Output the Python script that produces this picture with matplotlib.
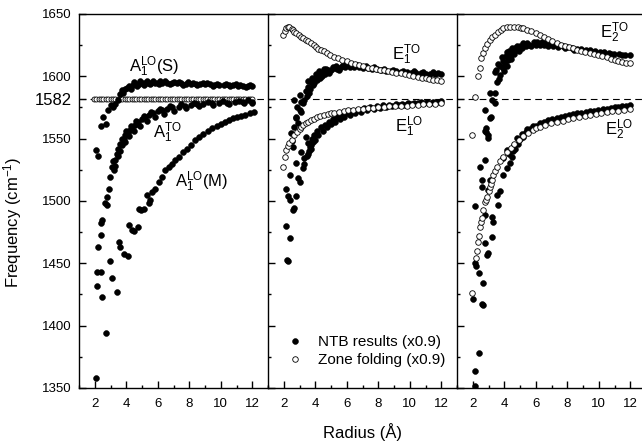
import matplotlib
matplotlib.use("Agg")
import matplotlib.pyplot as plt
from matplotlib.ticker import MultipleLocator

plt.rcParams['font.family'] = ['Liberation Sans', 'DejaVu Sans']
plt.rcParams['mathtext.fontset'] = 'custom'
plt.rcParams['mathtext.rm'] = 'Liberation Sans'
plt.rcParams['mathtext.it'] = 'Liberation Sans:italic'
plt.rcParams['mathtext.bf'] = 'Liberation Sans:bold'

# ---- panel 1 (A1 modes) ----
a1s_x = [2.05, 2.2, 2.4, 2.55, 2.7, 2.85, 3.0, 3.15, 3.3, 3.45, 3.6, 3.75, 3.9, 4.05, 4.2,
         4.4, 4.6, 4.8, 5.0, 5.2, 5.4, 5.6, 5.8, 6.0, 6.3, 6.6, 6.9, 7.2, 7.5, 7.8, 8.1, 8.4,
         8.7, 9.0, 9.3, 9.6, 9.9, 10.2, 10.5, 10.8, 11.1, 11.4, 11.7, 12.0,
         3.8, 4.3, 4.7, 5.1, 5.5, 6.1, 6.8, 7.6, 8.5, 9.5, 10.6, 11.6,
         4.5, 4.9, 5.3, 5.7, 6.15, 6.45, 7.05, 7.35, 7.95, 8.25, 8.85, 9.15, 9.75, 10.35, 10.95,
         11.25, 11.85]
a1s_y = [1541, 1536, 1560, 1567, 1562, 1573, 1577, 1575, 1578, 1581, 1586, 1589, 1590, 1591, 1592,
         1593, 1594, 1594, 1594.5, 1595, 1595, 1595, 1595, 1595, 1595, 1594.8, 1594.7, 1594.5,
         1594.4, 1594.2, 1594, 1594, 1593.8, 1593.6, 1593.5, 1593.3, 1593.2, 1593, 1593, 1592.8,
         1592.6, 1592.5, 1592.4, 1592.2,
         1587, 1590, 1592, 1593, 1593.5, 1593.8, 1593.6, 1593.2, 1592.8, 1592.4, 1592, 1591.6,
         1595.5, 1596, 1596, 1596.2, 1596, 1596, 1595.6, 1595.5, 1595.2, 1595, 1594.7, 1594.5,
         1594.2, 1593.9, 1593.6, 1593.4, 1593.2]

a1to_x = [2.21, 2.42, 2.42, 2.46, 2.68, 2.78, 2.78, 2.89, 2.99, 3.09, 3.2, 3.31, 3.41, 3.5, 3.63,
          3.75, 3.85, 3.95, 4.1, 4.25, 4.37, 4.55, 4.75, 5.0, 5.22, 5.45, 5.7, 6.0, 6.28, 6.6,
          6.9, 7.33, 7.7, 8.1, 8.5, 8.9, 9.45, 9.9, 10.4, 10.9, 11.4, 12.0,
          3.3, 3.6, 3.9, 4.2, 4.5, 4.9, 5.3, 5.8, 6.4, 7.0, 7.8, 8.6, 9.5, 10.5, 11.5, 12.0,
          3.15, 3.45, 3.7, 4.0, 4.3, 4.65, 5.1, 5.55, 6.15, 6.75, 7.5, 8.3, 9.2, 10.15, 11.15, 11.7]
a1to_y = [1463, 1473, 1482, 1485, 1498, 1497, 1503.5, 1510, 1519.5, 1527.6, 1525, 1533, 1538, 1536,
          1546, 1545, 1550, 1553, 1555, 1557, 1559.6, 1561, 1563, 1566, 1567.6, 1569, 1570.5, 1572,
          1573, 1574, 1575, 1575.7, 1576.3, 1577, 1577.5, 1578, 1578.4, 1578.8, 1579, 1579.3,
          1579.5, 1579.7,
          1528, 1540, 1547, 1552, 1556, 1560, 1564, 1567, 1570, 1572.5, 1574.5, 1576, 1577, 1578,
          1578.5, 1578.8,
          1532, 1542, 1550, 1556, 1560, 1564, 1568, 1571, 1574, 1576, 1577.8, 1578.8, 1579.6,
          1580.2, 1580.6, 1580.8]

a1m_x = [2.08, 2.15, 2.15, 2.42, 2.46, 2.74, 2.99, 3.09, 3.41, 3.52, 3.63, 3.84, 4.11, 4.16, 4.37,
         4.5, 4.75, 4.79, 4.95, 5.11, 5.33, 5.43, 5.5, 5.64, 5.85, 6.06, 6.25, 6.49, 6.7, 6.9, 7.1,
         7.33, 7.6, 7.85, 8.1, 8.39, 8.65, 8.9, 9.2, 9.45, 9.75, 10.0, 10.25, 10.51, 10.8, 11.05,
         11.3, 11.57, 11.85, 12.1]
a1m_y = [1358, 1432, 1443, 1443, 1423, 1394, 1452, 1438, 1427, 1467, 1463, 1457.5, 1456, 1481, 1477,
         1476, 1479, 1493.4, 1492.5, 1493.4, 1505, 1498, 1501, 1507.5, 1510, 1515.6, 1519, 1525,
         1527, 1530, 1532.5, 1535.6, 1539, 1542, 1545, 1549, 1551.5, 1553.5, 1556, 1558.4, 1560.5,
         1562, 1563.5, 1565, 1566.3, 1567.3, 1568.3, 1569, 1570.5, 1571.7]

a1zf_x = [1.95, 2.1, 2.25, 2.4, 2.55, 2.7, 2.85, 3.0, 3.15, 3.3, 3.45, 3.6, 3.75, 3.9, 4.05, 4.2,
          4.35, 4.5, 4.65, 4.8, 4.95, 5.1, 5.25, 5.4, 5.55, 5.7, 5.85, 6.0, 6.15, 6.3, 6.45, 6.6,
          6.75, 6.9, 7.05, 7.2, 7.35, 7.5, 7.65, 7.8, 7.95, 8.1, 8.25, 8.4, 8.55, 8.7, 8.85, 9.0,
          9.15, 9.3, 9.45, 9.6, 9.75, 9.9, 10.05, 10.2, 10.35, 10.5, 10.65, 10.8, 10.95, 11.1,
          11.25, 11.4, 11.55, 11.7, 11.85, 12.0]
a1zf_y = [1582] * len(a1zf_x)

# ---- panel 2 (E1 modes) ----
e1to_zf_x = [1.94, 2.05, 2.15, 2.26, 2.36, 2.5, 2.6, 2.68, 2.8, 2.95, 3.1, 3.25, 3.4, 3.55, 3.73,
             3.9, 4.05, 4.2, 4.37, 4.55, 4.75, 4.95, 5.22, 5.45, 5.7, 6.0, 6.27, 6.55, 6.8, 7.05,
             7.33, 7.6, 7.85, 8.1, 8.39, 8.65, 8.9, 9.15, 9.45, 9.7, 9.95, 10.2, 10.5, 10.75, 11.0,
             11.25, 11.5, 11.75, 12.0]
e1to_zf_y = [1633, 1636.5, 1638.5, 1639.5, 1639.8, 1638, 1637, 1635.8, 1634.5, 1633, 1631.8, 1630.5,
             1629.2, 1628, 1626.5, 1625, 1623.5, 1622.3, 1621.1, 1620, 1618.7, 1617.5, 1615.8,
             1614.5, 1613.2, 1612, 1611, 1610, 1609, 1608, 1607, 1606.3, 1605.8, 1605.4, 1605,
             1604.3, 1603.6, 1603, 1602.4, 1601.8, 1601.2, 1600.4, 1599.7, 1599, 1598.3, 1597.7,
             1597.2, 1596.7, 1596.3]

e1to_x = [2.55, 2.68, 2.68, 2.78, 2.85, 3.0, 3.0, 3.1, 3.23, 3.31, 3.4, 3.52, 3.6, 3.73, 3.85, 3.95,
          4.16, 4.3, 4.45, 4.6, 4.79, 5.0, 5.2, 5.4, 5.64, 5.9, 6.2, 6.49, 6.8, 7.05, 7.33, 7.6,
          7.9, 8.2, 8.5, 8.8, 9.1, 9.45, 9.8, 10.1, 10.4, 10.7, 11.0, 11.3, 11.6, 12.0,
          3.45, 3.65, 3.9, 4.1, 4.4, 4.9, 5.5,
          3.55, 3.8, 4.05, 4.25, 4.55, 4.7, 5.1, 5.3, 5.75, 6.05, 6.35, 6.65, 7.2, 7.75, 8.35,
          8.95, 9.6, 10.25, 10.85, 11.45, 11.8]
e1to_y = [1548, 1559.6, 1581, 1567.6, 1575, 1573, 1585, 1579.7, 1578.4, 1581, 1588, 1591.7, 1587,
          1595.5, 1593, 1598, 1601, 1599, 1603, 1602, 1605, 1605, 1606.5, 1606, 1607.5, 1607.5,
          1607.7, 1607.5, 1607.2, 1607, 1606.7, 1606.2, 1605.6, 1605, 1604.5, 1604.2, 1604,
          1603.7, 1603.3, 1603, 1602.7, 1602.4, 1602.2, 1602, 1601.9, 1601.8,
          1584, 1590, 1595, 1597, 1600, 1603, 1605,
          1596, 1599, 1602, 1604, 1605.5, 1606, 1607.5, 1608, 1608.8, 1609, 1609, 1608.8, 1608.3,
          1607.3, 1606.2, 1605.3, 1604.6, 1604, 1603.5, 1603.2, 1603]

e1lo_zf_x = [1.94, 2.05, 2.15, 2.26, 2.36, 2.5, 2.68, 2.85, 3.0, 3.1, 3.25, 3.4, 3.55, 3.73, 3.9,
             4.1, 4.3, 4.58, 4.8, 5.0, 5.22, 5.5, 5.8, 6.1, 6.4, 6.7, 7.0, 7.33, 7.65, 8.0, 8.35,
             8.7, 9.05, 9.45, 9.8, 10.15, 10.5, 10.85, 11.2, 11.6, 12.0]
e1lo_zf_y = [1527.6, 1535, 1541, 1544, 1546.3, 1549, 1553, 1555.5, 1557.5, 1559.6, 1561, 1562.3,
             1563.5, 1565, 1566, 1567, 1568, 1569, 1569.8, 1570.3, 1570.8, 1571.5, 1572.2, 1572.8,
             1573.3, 1573.8, 1574.1, 1574.4, 1574.8, 1575.2, 1575.6, 1575.9, 1576.1, 1576.2,
             1576.6, 1577, 1577.3, 1577.6, 1577.9, 1578.2, 1578.4]

e1lo_x = [2.15, 2.15, 2.21, 2.26, 2.25, 2.42, 2.42, 2.42, 2.46, 2.57, 2.57, 2.62, 2.78, 2.78, 2.78,
          2.89, 2.89, 3.0, 3.1, 3.1, 3.21, 3.31, 3.42, 3.52, 3.65, 3.8, 3.95, 4.1, 4.37, 4.6, 4.85,
          5.1, 5.4, 5.7, 6.0, 6.35, 6.7, 7.1, 7.5, 7.9, 8.3, 8.7, 9.1, 9.5, 9.9, 10.3, 10.7, 11.1,
          11.5, 12.0, 3.3, 3.45, 3.6, 3.75,
          3.55, 3.7, 3.85, 4.0, 4.2, 4.5, 4.75, 5.0, 5.25, 5.55, 5.85, 6.2, 6.55, 6.9, 7.3, 7.7,
          8.1, 8.5, 8.9, 9.3, 9.7, 10.1, 10.5, 10.9, 11.3, 11.75]
e1lo_y = [1480, 1509.5, 1452.7, 1451.5, 1504, 1470.3, 1500.8, 1521, 1554.3, 1543.6, 1492.8, 1494,
          1504, 1530.3, 1566.4, 1518.3, 1562.3, 1515.6, 1539.6, 1571.7, 1526.3, 1534.3, 1551.6,
          1546.3, 1543, 1550, 1553, 1556, 1559.6, 1561, 1563.5, 1565.5, 1567.5, 1569, 1570.5, 1572,
          1573.2, 1574.2, 1575.2, 1576, 1576.7, 1577.3, 1577.8, 1578.2, 1578.6, 1579, 1579.3,
          1579.6, 1579.8, 1580, 1530, 1536, 1540, 1545,
          1538, 1542, 1547, 1549, 1553, 1556.5, 1559, 1561.5, 1563.5, 1565.5, 1567.2, 1569, 1570.3,
          1571.6, 1572.8, 1573.8, 1574.8, 1575.6, 1576.3, 1576.9, 1577.4, 1577.9, 1578.3, 1578.7,
          1579, 1579.4]

# ---- panel 3 (E2 modes) ----
e2to_zf_x = [1.98, 2.15, 2.34, 2.44, 2.55, 2.66, 2.76, 2.9, 3.08, 3.25, 3.4, 3.6, 3.8, 3.95, 4.15,
             4.37, 4.6, 4.85, 5.05, 5.22, 5.45, 5.7, 6.0, 6.27, 6.55, 6.8, 7.05, 7.33, 7.6, 7.85,
             8.1, 8.39, 8.65, 8.9, 9.15, 9.45, 9.7, 9.95, 10.2, 10.5, 10.75, 11.0, 11.25, 11.5,
             11.75, 12.0]
e2to_zf_y = [1553, 1583.7, 1600.3, 1606.4, 1614.5, 1619, 1622.5, 1626, 1629.1, 1631.5, 1633.5,
             1635.8, 1637.5, 1638.5, 1639.3, 1639.8, 1639.8, 1639.5, 1639, 1638.5, 1637.5, 1636.3,
             1634.8, 1633.2, 1631.5, 1629.8, 1628, 1626.5, 1625.3, 1624.2, 1623.3, 1622.5, 1621.5,
             1620.5, 1619.5, 1618.5, 1617.7, 1616.8, 1616, 1615.3, 1614.3, 1613.3, 1612.3, 1611.6,
             1611, 1610.5]

e2to_x = [2.76, 2.87, 2.97, 3.08, 3.1, 3.19, 3.21, 3.4, 3.42, 3.42, 3.46, 3.52, 3.65, 3.75, 3.84,
          3.95, 4.05, 4.16, 4.25, 4.4, 4.55, 4.69, 4.85, 5.0, 5.22, 5.45, 5.6, 5.86, 6.1, 6.4, 6.65,
          6.91, 7.2, 7.5, 7.75, 7.97, 8.3, 8.6, 8.9, 9.2, 9.45, 9.75, 10.05, 10.35, 10.65, 10.95,
          11.3, 11.65, 12.0, 3.6, 3.7, 3.9, 4.1, 4.3, 4.5, 4.8,
          4.0, 4.2, 4.45, 4.65, 4.95, 5.15, 5.35, 5.7, 6.0, 6.25, 6.55, 6.8, 7.1, 7.4, 7.85, 8.45,
          9.05, 9.6, 10.2, 10.8, 11.45]
e2to_y = [1573, 1558.4, 1553, 1586.4, 1566.4, 1567.6, 1581, 1578.4, 1586.4, 1603.7, 1605, 1595.7,
          1598, 1601, 1615.7, 1606.4, 1610, 1619.7, 1613, 1617, 1619, 1622.5, 1621, 1624, 1626.5,
          1627, 1625.5, 1627.8, 1627.5, 1627.2, 1626.8, 1626.5, 1625.8, 1625.1, 1624.4, 1623.8,
          1623, 1622.3, 1621.8, 1621.4, 1621.1, 1620.5, 1619.8, 1619.2, 1618.6, 1618.1, 1617.7,
          1617.4, 1617.1, 1610, 1608, 1612, 1616, 1620, 1622.5, 1624.5,
          1604, 1608, 1614, 1618, 1620.5, 1622.5, 1624, 1624.5, 1625, 1625, 1624.8, 1624.5, 1624,
          1623.5, 1622.6, 1621.5, 1620.5, 1619.6, 1618.7, 1617.9, 1617]

e2lo_zf_x = [1.94, 2.21, 2.25, 2.36, 2.4, 2.46, 2.52, 2.57, 2.68, 2.78, 2.84, 2.89, 3.0, 3.1, 3.15,
             3.21, 3.31, 3.42, 3.55, 3.73, 3.9, 4.16, 4.4, 4.65, 4.95, 5.22, 5.5, 5.8, 6.0, 6.27,
             6.6, 6.95, 7.33, 7.7, 8.05, 8.39, 8.75, 9.1, 9.45, 9.8, 10.15, 10.5, 10.85, 11.2,
             11.6, 12.0]
e2lo_zf_y = [1426, 1454.1, 1460, 1467.4, 1472, 1479.5, 1483, 1486.2, 1493, 1499.5, 1501, 1503.5,
             1508, 1511.5, 1514, 1516.9, 1520.5, 1523.8, 1527.5, 1531.8, 1535, 1539, 1542.5, 1545.5,
             1549, 1552.5, 1554.8, 1557, 1558.3, 1559.5, 1560.8, 1562.2, 1563.5, 1564.5, 1565.4,
             1566.3, 1567.2, 1568, 1568.8, 1569.5, 1570.3, 1571, 1571.8, 1572.5, 1573.3, 1574]

e2lo_x = [2.15, 2.15, 2.42, 2.04, 2.57, 2.62, 2.68, 2.42, 2.15, 2.2, 2.89, 2.95, 2.78, 3.21, 2.78,
          3.21, 3.31, 2.15, 3.63, 3.52, 2.99, 2.57, 3.73, 2.6, 3.1, 2.46, 3.95, 4.16, 4.37, 2.78,
          3.95, 4.16, 2.99, 2.78, 2.85, 4.55, 4.7, 4.81, 4.9, 5.1, 5.2, 5.44, 5.8, 6.27, 6.8, 7.33,
          7.85, 8.39, 8.9, 9.45, 9.95, 10.5, 11.0, 11.5, 12.0, 4.5,
          4.3, 4.65, 5.0, 5.35, 5.65, 6.0, 6.5, 7.05, 7.6, 8.1, 8.65, 9.2, 9.7, 10.25, 10.75,
          11.25, 11.75]
e2lo_y = [1351.7, 1364, 1377.9, 1421.2, 1417.4, 1416.5, 1434, 1442, 1450, 1448, 1456.6, 1458, 1466.6,
          1471.4, 1488.8, 1487.5, 1483.5, 1495.8, 1496.4, 1505.2, 1509.1, 1511.5, 1507.7, 1516.9,
          1516.9, 1527.6, 1520.9, 1526.3, 1530.3, 1532.9, 1534.3, 1541, 1550.3, 1556.4, 1555.5,
          1540, 1542, 1550.3, 1546, 1553.5, 1551, 1557.5, 1560.5, 1562.5, 1564.8, 1566.8, 1568.3,
          1569.6, 1570.8, 1571.8, 1573, 1574, 1575, 1576, 1577, 1535,
          1538, 1545, 1550, 1555, 1558, 1560, 1563, 1565.5, 1567.5, 1569, 1570.3, 1571.4, 1572.5,
          1573.5, 1574.5, 1575.4, 1576.3]

ytick_vals = [1350, 1400, 1450, 1500, 1550, 1582, 1600, 1650]
ytick_text = ['1350', '1400', '1450', '1500', '1550', '1582', '1600', '1650']

filled = dict(ls='none', marker='o', ms=4.2, mfc='black', mec='black', mew=0.4)
hollow = dict(ls='none', marker='o', ms=4.0, mfc='white', mec='black', mew=0.6)

fig = plt.figure(figsize=(6.42, 4.45), dpi=100)
lefts = [79 / 642, 268 / 642, 457 / 642]
axes = [fig.add_axes([l, 57 / 445, 189 / 642, 374 / 445]) for l in lefts]

for i, ax in enumerate(axes):
    ax.set_xlim(1, 13)
    ax.set_ylim(1350, 1650)
    ax.axhline(1582, color='black', lw=0.8, ls=(0, (6, 4)), zorder=1)
    ax.xaxis.set_major_locator(MultipleLocator(2))
    ax.xaxis.set_minor_locator(MultipleLocator(1))
    ax.set_yticks(ytick_vals, labels=ytick_text)
    ax.yaxis.set_minor_locator(MultipleLocator(25))
    ax.tick_params(which='both', direction='in', top=False, right=False, width=1)
    ax.tick_params(which='major', length=5)
    ax.tick_params(which='minor', length=2.5)
    ax.tick_params(axis='x', labelsize=9.5, pad=7)
    ax.tick_params(axis='y', labelsize=9.5, pad=5)
    for sp in ax.spines.values():
        sp.set_linewidth(1.0)
    if i < 2:
        ax.spines['right'].set_visible(False)
    if i > 0:
        ax.tick_params(axis='y', labelleft=False)

for lbl in axes[0].get_yticklabels():
    if lbl.get_text() == '1582':
        lbl.set_fontsize(12)

ax1, ax2, ax3 = axes

ax1.plot(a1zf_x, a1zf_y, zorder=2, **{**hollow, 'ms': 3.6})
ax1.plot(a1s_x, a1s_y, zorder=3, **filled)
ax1.plot(a1to_x, a1to_y, zorder=3, **filled)
ax1.plot(a1m_x, a1m_y, zorder=3, **filled)

ax2.plot(e1to_x, e1to_y, zorder=2, **filled)
ax2.plot(e1lo_x, e1lo_y, zorder=2, **filled)
ax2.plot(e1to_zf_x, e1to_zf_y, zorder=3, **hollow)
ax2.plot(e1lo_zf_x, e1lo_zf_y, zorder=3, **hollow)

ax3.plot(e2to_x, e2to_y, zorder=2, **filled)
ax3.plot(e2lo_x, e2lo_y, zorder=2, **filled)
ax3.plot(e2to_zf_x, e2to_zf_y, zorder=3, **hollow)
ax3.plot(e2lo_zf_x, e2lo_zf_y, zorder=3, **hollow)

fs = 12
ax1.text(4.2, 1603.5, r'A$_1^{\mathrm{LO}}$(S)', fontsize=fs, va='baseline')
ax1.text(5.7, 1551, r'A$_1^{\mathrm{TO}}$', fontsize=fs, va='baseline')
ax1.text(7.08, 1511, r'A$_1^{\mathrm{LO}}$(M)', fontsize=fs, va='baseline')
ax2.text(8.9, 1613, r'E$_1^{\mathrm{TO}}$', fontsize=fs, va='baseline')
ax2.text(9.05, 1555.5, r'E$_1^{\mathrm{LO}}$', fontsize=fs, va='baseline')
ax3.text(10.06, 1631, r'E$_2^{\mathrm{TO}}$', fontsize=fs, va='baseline')
ax3.text(10.4, 1553, r'E$_2^{\mathrm{LO}}$', fontsize=fs, va='baseline')

h1, = ax2.plot([], [], **filled)
h2, = ax2.plot([], [], **hollow)
ax2.legend([h1, h2], ['NTB results (x0.9)', 'Zone folding (x0.9)'], loc='lower left',
           bbox_to_anchor=(0.103, 0.056), frameon=False, fontsize=11, numpoints=1,
           handlelength=1.0, handletextpad=1.0, borderpad=0, borderaxespad=0, labelspacing=0.25)

fig.text(12.5 / 642, 0.5, 'Frequency (cm$^{-1}$)', rotation=90, ha='center', va='center', fontsize=12)
fig.text(362.5 / 642, 1 - 432 / 445, 'Radius (Å)', ha='center', va='center', fontsize=12)

fig.savefig('out.png', dpi=100)
